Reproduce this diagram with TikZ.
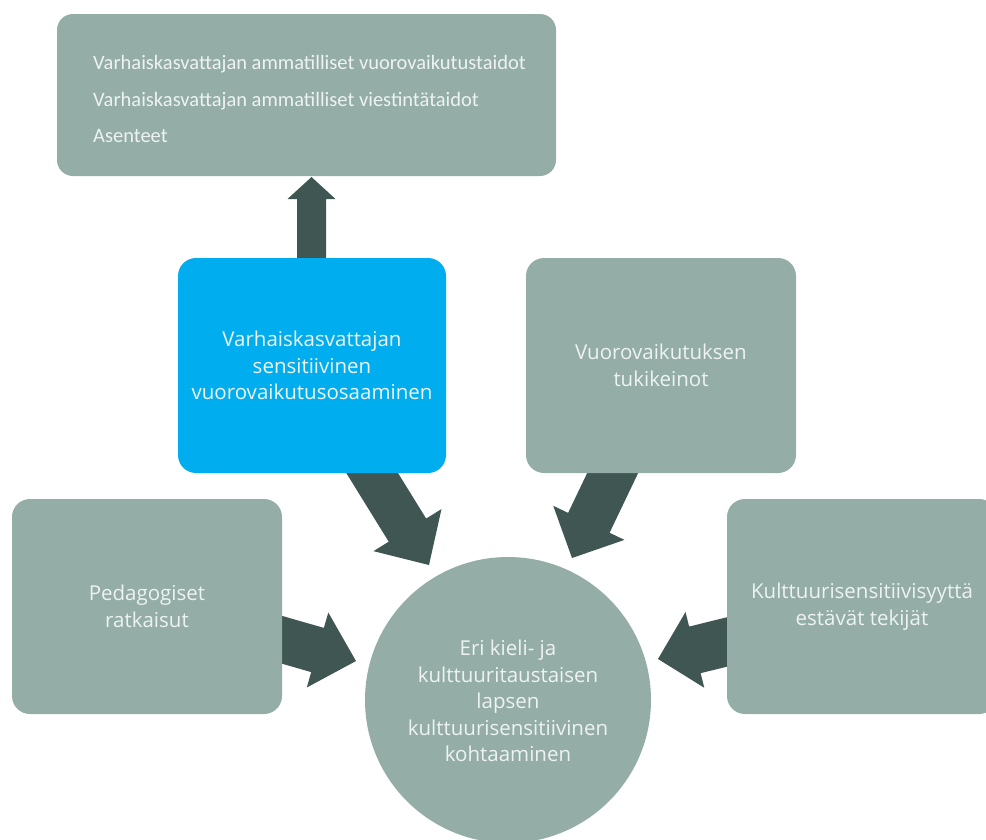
\documentclass[tikz,border=0pt]{standalone}
\usepackage{fontspec}
\setmainfont{Open Sans}
\newfontfamily\topfont{Carlito}
\usetikzlibrary{calc}
\definecolor{boxgreen}{HTML}{94ADA6}
\definecolor{boxblue}{HTML}{00AEEF}
\definecolor{arrowdark}{HTML}{3F5652}
\definecolor{txt}{HTML}{EEF3F2}
\newcommand{\boxfont}{\fontsize{20.5}{26.5}\selectfont}
\newcommand{\blockarrow}[5]{%
  \coordinate (bh) at ($(#2)!#5!(#1)$);
  \fill[arrowfill] ($(#1)!#3!90:(#2)$) -- ($(bh)!#3!90:(#2)$) -- ($(bh)!#4!90:(#2)$) -- (#2)
    -- ($(bh)!#4!-90:(#2)$) -- ($(bh)!#3!-90:(#2)$) -- ($(#1)!#3!-90:(#2)$) -- cycle;}
\begin{document}
\begin{tikzpicture}[x=1pt,y=-1pt,
  box/.style={fill=boxgreen, rounded corners=18pt, text=txt, align=center, inner sep=0pt, font=\boxfont},
  bluebox/.style={box, fill=boxblue},
  arrowfill/.style={fill=arrowdark},
  circtext/.style={text=txt, align=center, font=\boxfont}]
\useasboundingbox (0,0) rectangle (986,839);
% circle
\node[circle, fill=boxgreen, minimum size=286pt, inner sep=0pt] (circ) at (508,700) {};
\node[circtext] (circt) at (508,701) {Eri kieli- ja\\kulttuuritaustaisen\\lapsen\\kulttuurisensitiivinen\\kohtaaminen};
% arrow coordinates
\coordinate (a1s) at (311.5,265); \coordinate (a1t) at (311.5,177);
\coordinate (a2s) at (361,455);   \coordinate (a2t) at (429,565);
\coordinate (a3s) at (628,441);   \coordinate (a3t) at (572,558);
\coordinate (a4s) at (260,633.5); \coordinate (a4t) at (356,661);
\coordinate (a5s) at (755,635);   \coordinate (a5t) at (658,659);
\blockarrow{a1s}{a1t}{14.5pt}{24pt}{22pt}
\blockarrow{a2s}{a2t}{22pt}{40pt}{41pt}
\blockarrow{a3s}{a3t}{23pt}{39.5pt}{39pt}
\blockarrow{a4s}{a4t}{23pt}{39pt}{40pt}
\blockarrow{a5s}{a5t}{24pt}{39pt}{38pt}
% boxes
\node[box, rounded corners=16pt, minimum width=499pt, minimum height=162pt] (top) at (306.5,95) {};
\node[anchor=west, align=left, text=txt, inner sep=0pt, font=\topfont\fontsize{20.5}{36.5}\selectfont] (toptext) at (93,99)
  {Varhaiskasvattajan ammatilliset vuorovaikutustaidot\\Varhaiskasvattajan ammatilliset viestintätaidot\\Asenteet};
\node[bluebox, minimum width=268pt, minimum height=215pt] (blue) at (312,365.5)
  {Varhaiskasvattajan\\sensitiivinen\\vuorovaikutusosaaminen};
\node[box, minimum width=270pt, minimum height=215pt] (tuki) at (661,365.5)
  {Vuorovaikutuksen\\tukikeinot};
\node[box, minimum width=270pt, minimum height=215pt] (peda) at (147,606.5)
  {Pedagogiset\\ratkaisut};
\node[box, minimum width=270pt, minimum height=215pt] (kult) at (862,606.5)
  {Kulttuurisensitiivisyyttä\\estävät tekijät};
\end{tikzpicture}
\end{document}
